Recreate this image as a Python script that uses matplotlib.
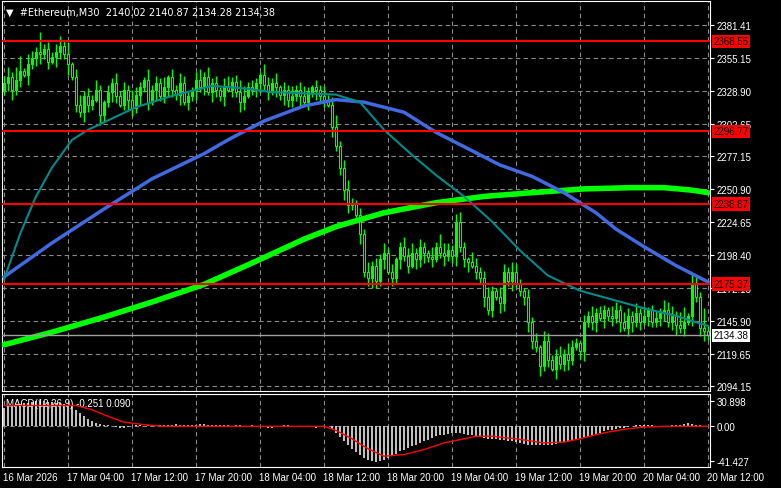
import matplotlib
matplotlib.use("Agg")
import matplotlib.pyplot as plt
import numpy as np

closes = [2335,2340,2330,2338,2345,2342,2350,2355,2360,
          2358,2362,2352,2356,2360,2365,2358,2350,2340,
          2318,2312,2325,2318,2322,2330,2310,2320,
          2328,2335,2325,2318,2330,2322,2315,2326,2332,2338,2320,2330,2335,2325,2332,
          2340,2330,2326,2335,2320,2325,2330,2338,2332,2340,2328,2335,2330,2325,2333,
          2330,2336,2328,2320,2325,2332,2330,2335,2342,2334,
          2328,2335,2332,2326,2330,2322,2325,2330,2325,2320,2328,2332,2330,2325,2322,
          2318,2300,2285,2268,2250,2238,2240,2230,2215,2185,
          2180,2190,2178,2195,2200,2185,2180,2195,2205,2198,2190,2200,2195,2205,2200,2197,2195,2205,2200,2198,2202,2198,
          2225,2205,2195,2193,2190,2185,2180,2165,
          2155,2170,2165,2160,2185,2178,2185,2175,2170,2165,
          2145,2130,2125,2110,2130,2115,2108,2118,2112,2120,2115,2125,2128,2122,2145,
          2150,2145,2152,2148,2155,2150,2148,2155,2145,2140,2150,2145,2152,2145,2150,2155,2145,2148,2152,2155,2145,2150,2143,2140,2145,2150,2175,2165,2140,2138,
          2134.38]
first_open = 2330
wick_up = "3425614328232342513423242132423243214232413243213424231342354232143241324234213242352342132423242312434232142543234214323421432432132314323424321324232143243242412324"
wick_dn = "2342314234231432413243214324312432423142343241324231432413243123423142433241324231423432142343241324231434231242342341324231432412343242314234213423414232413423142233"

ma_fast_idx = [0,4,8,12,17,21,25,33,42,52,60,67,75,83,89,95,102,108,115,122,129,136,144,152,160,168,176]
ma_fast = [2179,2215,2245,2268,2290,2298,2304,2316,2325,2333,2331,2328,2327,2326,2320,2298,2278,2262,2245,2225,2202,2182,2170,2163,2156,2150,2142]
ma_mid_idx = [0,12,25,37,50,56,65,75,83,90,100,108,116,124,132,140,148,153,160,168,176]
ma_mid = [2181,2208,2235,2259,2279,2290,2305,2317,2322,2320,2312,2296,2283,2270,2261,2248,2232,2219,2205,2190,2177]
ma_slow_idx = [0,12,25,37,50,62,75,83,95,108,120,132,145,157,165,172,176]
ma_slow = [2127,2137,2149,2161,2175,2192,2211,2221,2232,2240,2245,2248,2251,2252,2252,2250,2248]

macd_hist = [22,24,25,26,27,28,28,29,30,30,30,29,29,28,28,27,26,24,
             20,16,12,9,6,4,3,2,
             1,0,-1,-2,-2,-1,0,1,1,0,1,2,2,2,1,2,2,3,2,2,1,2,2,3,3,2,2,1,2,1,
             1,0,1,1,0,0,1,0,-1,-1,-2,-2,-1,0,1,1,0,-1,-1,0,0,-1,-2,-1,0,
             0,-3,-8,-13,-18,-23,-27,-31,-35,-38,-40,-42,-43,-42,-40,
             -38,-36,-33,-30,-28,-26,-24,-22,-20,-18,-16,-14,-12,-11,-10,-9,-8,
             -8,-8,-9,-10,-11,-12,-13,-14,-15,-15,-15,-16,-17,-18,-18,-19,-20,-21,
             -22,-22,-23,-23,-23,-22,-22,-21,-20,-19,-18,-17,-16,-15,-13,
             -12,-10,-9,-8,-6,-5,-4,-3,-2,-2,-1,0,1,1,1,
             1,1,0,0,-1,0,1,1,2,3,4,3,2,1,0,-1]
sig_idx = [0,18,22,26,30,35,40,80,83,87,91,95,100,105,110,118,122,128,135,140,144,148,152,156,160,165,176]
signal = [25,25,20,12,5,2,0,0,-5,-15,-27,-36,-34,-28,-20,-12,-12,-15,-20,-19,-15,-10,-6,-3,-1,0,0]

levels = [2368.55, 2296.77, 2238.87, 2175.37]
last_price = 2134.38
price_ticks = [2381.41,2355.15,2328.90,2302.65,2277.15,2250.90,2224.65,2198.40,2172.15,2145.90,2119.65,2094.15]
time_labels = ['16 Mar 2026','17 Mar 04:00','17 Mar 12:00','17 Mar 20:00','18 Mar 04:00','18 Mar 12:00',
               '18 Mar 20:00','19 Mar 04:00','19 Mar 12:00','19 Mar 20:00','20 Mar 04:00','20 Mar 12:00']

plt.rcParams['font.family'] = ['Liberation Sans', 'DejaVu Sans']
W, H = 781, 489
fig = plt.figure(figsize=(W/100, H/100), dpi=100, facecolor='black')
def rect(l, t, r, b):
    return [l/W, 1-b/H, (r-l)/W, (b-t)/H]
ax = fig.add_axes(rect(2, 2, 710, 392), facecolor='black')
ax2 = fig.add_axes(rect(2, 395, 710, 468), facecolor='black')

n = len(closes)
x = np.arange(n)
opens = [first_open] + closes[:-1]
for i in range(n):
    o, c = opens[i], closes[i]
    hi = max(o, c) + 2*int(wick_up[i % len(wick_up)])
    lo = min(o, c) - 2*int(wick_dn[i % len(wick_dn)])
    ax.vlines(i, lo, hi, color='#00ff00', lw=1, zorder=3)
    fc = '#00ff00' if c >= o else 'black'
    ax.bar(i, max(abs(c-o), 0.4), bottom=min(o, c), width=0.6, color=fc, edgecolor='#00ff00', lw=0.8, zorder=4)

ax.plot(ma_slow_idx, ma_slow, color='#00ff00', lw=4, zorder=5, solid_capstyle='round')
ax.plot(ma_mid_idx, ma_mid, color='#4169e1', lw=2.5, zorder=5)
ax.plot(ma_fast_idx, ma_fast, color='#008b8b', lw=1.5, zorder=5)

ymin, ymax = 2090.2, 2400.5
for a in (ax, ax2):
    a.set_xlim(-0.5, 176.5)
    for s in a.spines.values():
        s.set_color('white')
    a.set_xticks([])
    a.yaxis.tick_right()
    a.tick_params(axis='y', colors='white', labelsize=7, length=3, pad=2)
    for k in range(len(time_labels)):
        a.axvline(k*16, color='#888888', ls=(0, (4, 3)), lw=0.8, zorder=1)
ax.set_ylim(ymin, ymax)
ax.set_yticks(price_ticks)
ax.set_yticklabels([f'{p:.2f}' for p in price_ticks])
for p in price_ticks:
    ax.axhline(p, color='#888888', ls=(0, (4, 3)), lw=0.8, zorder=1)
for lv in levels:
    ax.axhline(lv, color='red', lw=1.5, zorder=6)
    ax.text(1.005, lv, f'{lv:.2f}', transform=ax.get_yaxis_transform(), fontsize=7, color='black',
            va='center', ha='left', bbox=dict(fc='red', ec='none', pad=1.2), zorder=10, clip_on=False)
ax.axhline(last_price, color='#a0a0a0', lw=1, zorder=6)
ax.text(1.005, last_price, f'{last_price:.2f}', transform=ax.get_yaxis_transform(), fontsize=7, color='black',
        va='center', ha='left', bbox=dict(fc='white', ec='none', pad=1.2), zorder=10, clip_on=False)
ax.text(0.005, 0.985, '▼  #Ethereum,M30  2140.02 2140.87 2134.28 2134.38', transform=ax.transAxes,
        color='white', fontsize=7, va='top', ha='left', family=['DejaVu Sans'])

ax2.bar(x, macd_hist, width=0.6, color='#c0c0c0', zorder=3)
ax2.plot(sig_idx, signal, color='red', lw=1, zorder=4)
ax2.set_ylim(-49, 38.9)
ax2.set_yticks([30.898, 0, -41.427])
ax2.set_yticklabels(['30.898', '0.00', '-41.427'])
ax2.axhline(0, color='#888888', ls=(0, (4, 3)), lw=0.8, zorder=1)
ax2.text(0.005, 0.95, 'MACD(12,26,9) -0.251 0.090', transform=ax2.transAxes, color='white', fontsize=7, va='top')

for k, lab in enumerate(time_labels):
    xp = 3 + k*64
    fig.text(xp/W, 1-478/H, lab, color='white', fontsize=7, ha='left', va='center')

fig.savefig('out.png', dpi=100, facecolor='black')
